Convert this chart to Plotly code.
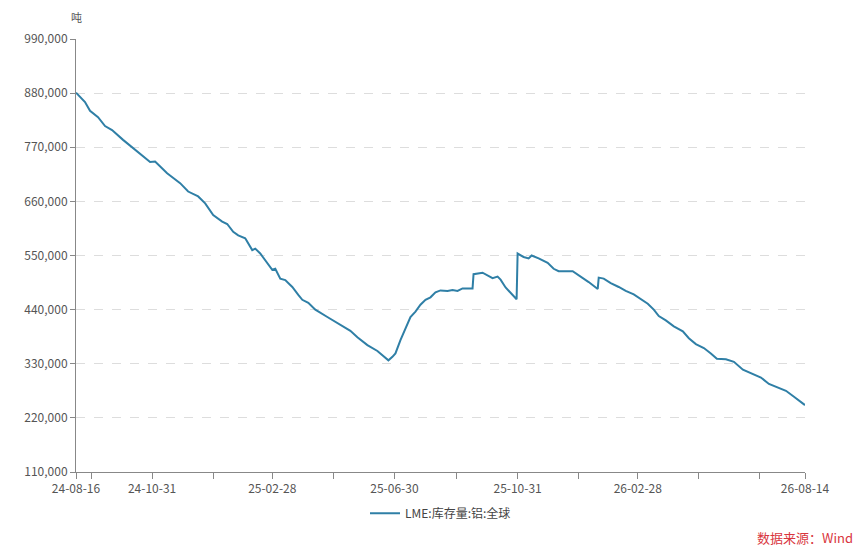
import plotly.graph_objects as go

dates = [
    "2024-08-16", "2024-08-25", "2024-08-30", "2024-09-07", "2024-09-14", "2024-09-21",
    "2024-10-02", "2024-10-12", "2024-10-21", "2024-10-29", "2024-11-03", "2024-11-15",
    "2024-11-28", "2024-12-06", "2024-12-16", "2024-12-23", "2024-12-31", "2025-01-09",
    "2025-01-14", "2025-01-17", "2025-01-20", "2025-01-25", "2025-02-01", "2025-02-08",
    "2025-02-11", "2025-02-16", "2025-02-23", "2025-02-28", "2025-03-03", "2025-03-08",
    "2025-03-13", "2025-03-20", "2025-03-26", "2025-03-30", "2025-04-05", "2025-04-12",
    "2025-04-24", "2025-05-07", "2025-05-17", "2025-05-24", "2025-06-03", "2025-06-13",
    "2025-06-21", "2025-06-24", "2025-06-28", "2025-07-01", "2025-07-06", "2025-07-11",
    "2025-07-16", "2025-07-21", "2025-07-26", "2025-07-31", "2025-08-05", "2025-08-10",
    "2025-08-15", "2025-08-22", "2025-08-27", "2025-09-01", "2025-09-06", "2025-09-16",
    "2025-09-17", "2025-09-26", "2025-10-01", "2025-10-06", "2025-10-11", "2025-10-14",
    "2025-10-19", "2025-10-24", "2025-10-30", "2025-10-31", "2025-11-06", "2025-11-11",
    "2025-11-14", "2025-11-21", "2025-11-30", "2025-12-06", "2025-12-11", "2025-12-25",
    "2025-12-31", "2026-01-10", "2026-01-19", "2026-01-20", "2026-01-25", "2026-02-01",
    "2026-02-09", "2026-02-16", "2026-02-24", "2026-03-03", "2026-03-10", "2026-03-16",
    "2026-03-21", "2026-03-28", "2026-04-05", "2026-04-14", "2026-04-20", "2026-04-27",
    "2026-05-05", "2026-05-12", "2026-05-18", "2026-05-27", "2026-06-04", "2026-06-13",
    "2026-06-23", "2026-07-01", "2026-07-09", "2026-07-18", "2026-07-26", "2026-08-03",
    "2026-08-13", "2026-08-14",
]
stock = [
    881000, 862000, 844000, 831000, 813000, 805000,
    785000, 768000, 752000, 740000, 741000, 717000,
    697000, 680000, 670000, 656000, 632000, 619000,
    614000, 605000, 598000, 591000, 585000, 561000,
    564000, 554000, 534000, 521000, 523000, 503000,
    500000, 486000, 470000, 460000, 454000, 440000,
    425000, 409000, 397000, 384000, 368000, 356000,
    341000, 337000, 344000, 351000, 378000, 402000,
    425000, 436000, 450000, 460000, 465000, 475000,
    479000, 478000, 480000, 478000, 483000, 483000,
    512000, 515000, 510000, 504000, 507000, 501000,
    485000, 474000, 461000, 554000, 547000, 544000,
    550000, 544000, 535000, 523000, 518000, 518000,
    510000, 496000, 482000, 505000, 503000, 494000,
    486000, 478000, 471000, 461000, 452000, 440000,
    427000, 418000, 406000, 396000, 382000, 370000,
    362000, 351000, 340000, 339000, 334000, 318000,
    310000, 302000, 289000, 282000, 275000, 263000,
    248000, 246000,
]

x_tick_vals = [
    "2024-08-16", "2024-08-31", "2024-10-31", "2024-12-31", "2025-02-28", "2025-04-30",
    "2025-06-30", "2025-08-31", "2025-10-31", "2025-12-31", "2026-02-28", "2026-04-30",
    "2026-06-30", "2026-08-14",
]
x_tick_text = [
    "24-08-16", "", "24-10-31", "", "25-02-28", "",
    "25-06-30", "", "25-10-31", "", "26-02-28", "",
    "", "26-08-14",
]
y_tick_vals = [110000, 220000, 330000, 440000, 550000, 660000, 770000, 880000, 990000]

series_name = "LME:库存量:铝:全球"
unit_label = "吨"
source_label = "数据来源：Wind"

FONT = "Microsoft YaHei, Noto Sans CJK SC, sans-serif"

fig = go.Figure()
fig.add_trace(go.Scatter(
    x=dates, y=stock, mode="lines", name=series_name,
    line=dict(color="#2f7fa6", width=2),
))

fig.update_layout(
    width=849, height=538,
    margin=dict(l=68, r=52, t=31, b=74),
    paper_bgcolor="white", plot_bgcolor="white",
    font=dict(family=FONT, size=12, color="#555555"),
    showlegend=True,
    legend=dict(orientation="h", x=0.5, xanchor="center", y=-0.095, yanchor="middle",
                font=dict(size=12, color="#444444")),
    xaxis=dict(
        type="date", range=["2024-08-16", "2026-08-14"],
        tickmode="array", tickvals=x_tick_vals, ticktext=x_tick_text,
        showgrid=False, showline=True, linecolor="#888888", linewidth=1,
        ticks="outside", ticklen=6, tickcolor="#888888",
        tickfont=dict(size=12, color="#555555"), zeroline=False,
    ),
    yaxis=dict(
        range=[110000, 990000], tickmode="array", tickvals=y_tick_vals,
        tickformat=",", showgrid=True, gridcolor="#dddddd", griddash="dash", gridwidth=1,
        showline=True, linecolor="#888888", linewidth=1,
        ticks="outside", ticklen=5, tickcolor="#888888",
        tickfont=dict(size=12, color="#555555"), zeroline=False,
    ),
    annotations=[
        dict(text=unit_label, xref="paper", yref="paper", x=0, y=1, xanchor="center",
             yanchor="bottom", yshift=12, showarrow=False,
             font=dict(size=11, color="#555555")),
        dict(text=source_label, xref="paper", yref="paper", x=1, y=0, xanchor="right",
             yanchor="middle", xshift=49, yshift=-65, showarrow=False, borderpad=0,
             font=dict(size=13, color="#d9363e")),
    ],
)

fig.write_html("out.html")
